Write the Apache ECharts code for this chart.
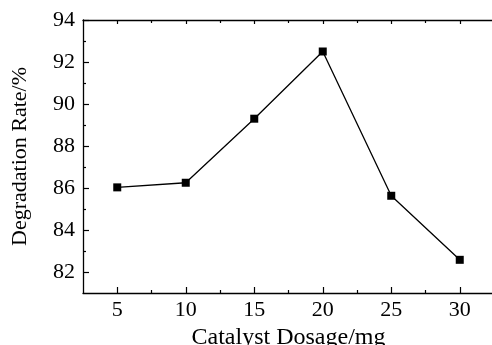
<!DOCTYPE html>
<html>
<head>
<meta charset="utf-8">
<script src="https://cdn.jsdelivr.net/npm/echarts@6/dist/echarts.min.js"></script>
<style>
  html, body { margin: 0; padding: 0; background: #fff; }
  #chart { width: 492px; height: 345px; }
</style>
</head>
<body>
<div id="chart"></div>
<script>
  // 数据
  const dosage = [5, 10, 15, 20, 25, 30];
  const rate = [86.03, 86.25, 89.3, 92.5, 85.63, 82.58];
  const xTicks = [5, 10, 15, 20, 25, 30];
  const xMinorTicks = [7.5, 12.5, 17.5, 22.5, 27.5];
  const yTicks = [82, 84, 86, 88, 90, 92, 94];
  const yMinorTicks = [83, 85, 87, 89, 91, 93];

  const font = "'Liberation Serif', 'Times New Roman', serif";
  const xMin = 2.5, xMax = 32.5, yMin = 81, yMax = 94;

  const myChart = echarts.init(document.getElementById('chart'));

  // x轴：主刻度 / 次刻度，底部和顶部
  const xAxisBase = (position, values, len, extra) => Object.assign({
    type: 'value',
    position: position,
    min: xMin,
    max: xMax,
    splitLine: { show: false },
    axisLine: { show: false },
    axisLabel: { show: false },
    axisTick: {
      show: true,
      inside: true,
      length: len,
      customValues: values,
      lineStyle: { color: '#000', width: 1.2 }
    }
  }, extra || {});

  const yAxisBase = (values, len, extra) => Object.assign({
    type: 'value',
    position: 'left',
    min: yMin,
    max: yMax,
    splitLine: { show: false },
    axisLine: { show: false },
    axisLabel: { show: false },
    axisTick: {
      show: true,
      inside: true,
      length: len,
      customValues: values,
      lineStyle: { color: '#000', width: 1.2 }
    }
  }, extra || {});

  const options = {
    animation: false,
    backgroundColor: '#fff',
    grid: { left: 83, top: 20, right: -2, bottom: 52, containLabel: false, outerBoundsMode: 'none' },
    xAxis: [
      xAxisBase('bottom', xTicks, 6, {
        name: 'Catalyst Dosage/mg',
        nameLocation: 'middle',
        nameGap: 27,
        nameTextStyle: { fontFamily: font, fontSize: 24, color: '#000' },
        axisLine: { show: true, onZero: false, lineStyle: { color: '#000', width: 1.3 } },
        axisLabel: {
          show: true,
          margin: 6,
          customValues: xTicks,
          fontFamily: font,
          fontSize: 22,
          color: '#000'
        }
      }),
      xAxisBase('bottom', xMinorTicks, 3),
      xAxisBase('top', xTicks, 4, {
        axisLine: { show: true, onZero: false, lineStyle: { color: '#000', width: 1.3 } }
      }),
      xAxisBase('top', xMinorTicks, 3)
    ],
    yAxis: [
      yAxisBase(yTicks, 6, {
        name: 'Degradation Rate/%',
        nameLocation: 'middle',
        nameGap: 52,
        nameTextStyle: { fontFamily: font, fontSize: 22, color: '#000' },
        axisLine: { show: true, onZero: false, lineStyle: { color: '#000', width: 1.3 } },
        axisLabel: {
          show: true,
          margin: 8,
          customValues: yTicks,
          fontFamily: font,
          fontSize: 22,
          color: '#000'
        }
      }),
      yAxisBase(yMinorTicks, 3)
    ],
    series: [
      {
        type: 'line',
        xAxisIndex: 0,
        yAxisIndex: 0,
        data: dosage.map((d, i) => [d, rate[i]]),
        symbol: 'rect',
        symbolSize: 8,
        lineStyle: { color: '#000', width: 1.3 },
        itemStyle: { color: '#000' }
      }
    ]
  };

  myChart.setOption(options);
</script>
</body>
</html>
